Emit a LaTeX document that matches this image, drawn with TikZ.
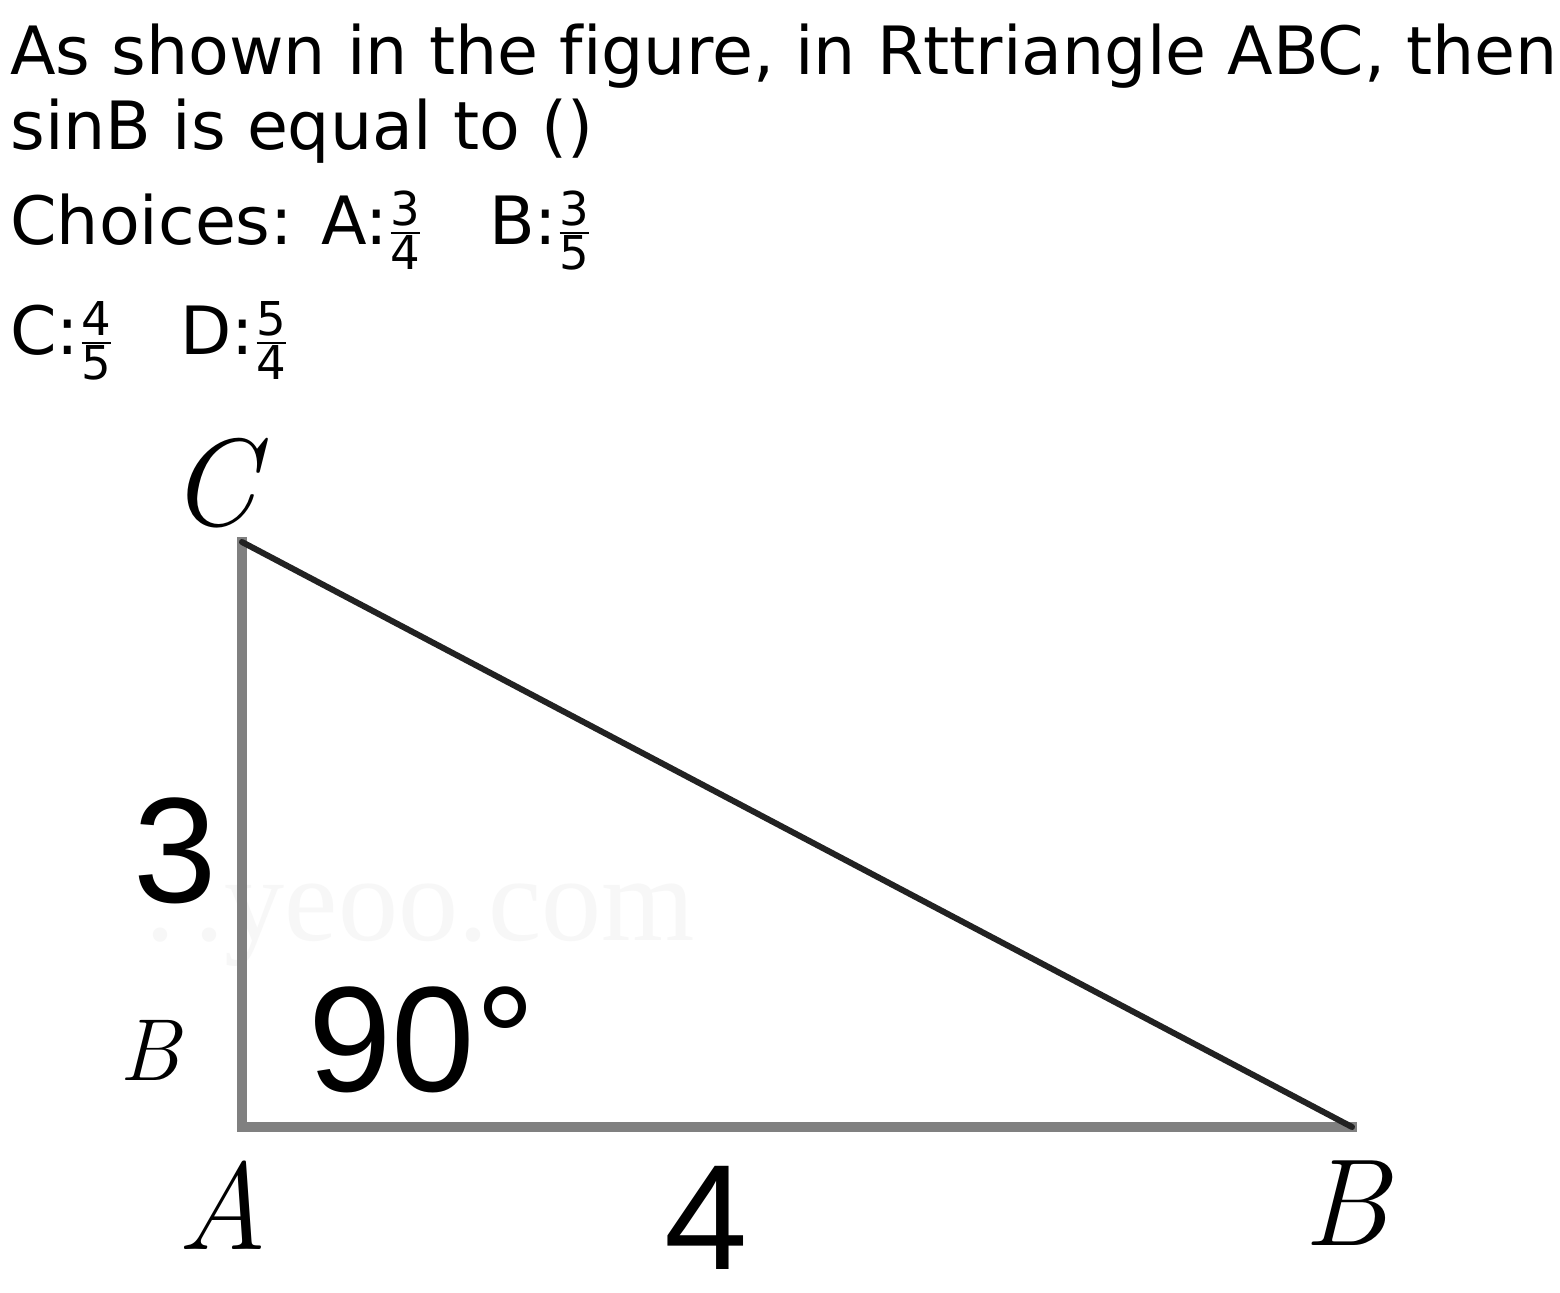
\documentclass[tikz,border=0pt]{standalone}
\usepackage{amsmath}
\usepackage{fontspec}
\setmainfont[Ligatures=NoCommon]{DejaVu Sans}
\newfontfamily\lblsans{Liberation Sans}
\newfontfamily\lblserif{Latin Modern Roman}
\newfontfamily\wmfont{Liberation Serif}
\newcommand{\myfr}[2]{\ensuremath{\frac{\text{#1}}{\text{#2}}}}
\definecolor{sidegray}{RGB}{128,128,128}
\definecolor{hypdark}{RGB}{34,34,34}
\tikzset{
  qtext/.style={anchor=base west, inner sep=0pt, font=\fontsize{33.3}{37.5}\selectfont},
  vlabel/.style={inner sep=0pt, font=\lblserif\itshape\fontsize{62}{62}\selectfont},
  numlabel/.style={inner sep=0pt, font=\lblsans\fontsize{75}{75}\selectfont},
  sideline/.style={draw=sidegray, line width=5pt, line cap=rect},
  hypline/.style={draw=hypdark, line width=3pt, line cap=round}
}
\begin{document}
\begin{tikzpicture}[x=0.5pt,y=-0.5pt]
\useasboundingbox[fill=white] (0,0) rectangle (1560,1293);
% question text
\node[qtext] (q1) at (10,75) {As shown in the figure, in Rttriangle ABC, then};
\node[qtext] (q2) at (10,150) {sinB is equal to ()};
\node[qtext] (q3) at (10,245) {Choices: A:\myfr{3}{4}\quad B:\myfr{3}{5}};
\node[qtext] (q4) at (10,355) {C:\myfr{4}{5}\quad D:\myfr{5}{4}};
% watermark
\node[inner sep=0pt, text=black!3, font=\wmfont\fontsize{60}{60}\selectfont] (wm) at (420,925) {.\,.yeoo.com};
% triangle
\coordinate (A) at (242,1127);
\coordinate (C) at (242,542);
\coordinate (B) at (1352,1127);
\draw[sideline] (C) -- (A) -- (B);
\draw[hypline] (C) -- (B);
% labels
\node[vlabel] (lC) at (213,483) {C};
\node[vlabel] (lA) at (223,1205) {A};
\node[vlabel] (lB) at (1346,1203) {B};
\node[inner sep=0pt, font=\lblserif\itshape\fontsize{44}{44}\selectfont] (lb) at (150,1050) {B};
\node[numlabel] (n3) at (175,851) {3};
\node[numlabel, anchor=base west] (n90) at (308,1092) {90\textdegree};
\node[numlabel] (n4) at (706,1218) {4};
\end{tikzpicture}
\end{document}
